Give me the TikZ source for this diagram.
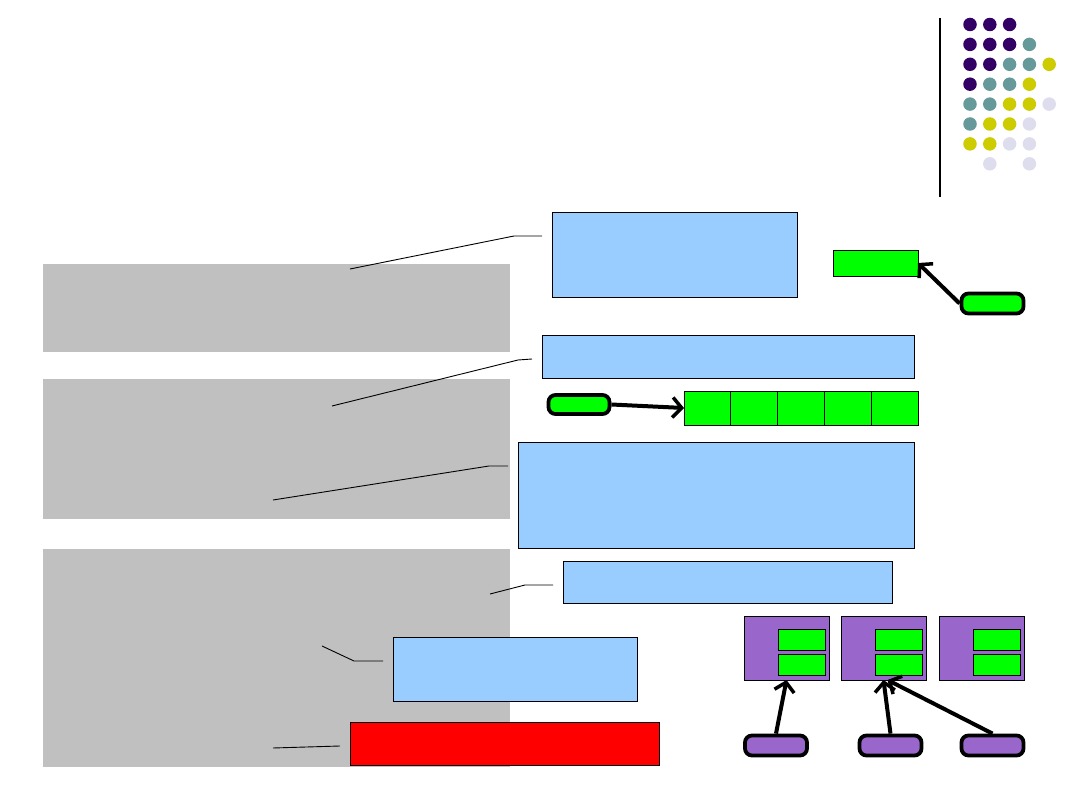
\documentclass[tikz,border=0pt]{standalone}
\usetikzlibrary{arrows.meta}
\definecolor{gbg}{HTML}{C0C0C0}
\definecolor{lblue}{HTML}{99CCFF}
\definecolor{lgreen}{HTML}{00FF00}
\definecolor{lred}{HTML}{FF0000}
\definecolor{lpurp}{HTML}{9966CC}
\definecolor{dP}{HTML}{330066}
\definecolor{dT}{HTML}{669999}
\definecolor{dY}{HTML}{CCCC00}
\definecolor{dL}{HTML}{DDDDEE}
\tikzset{
  box/.style={draw=black,line width=0.9pt,inner sep=0pt,outer sep=0pt},
  graybox/.style={fill=gbg,inner sep=0pt,outer sep=0pt},
  pill/.style={draw=black,line width=3.8pt,rounded corners=7pt,inner sep=0pt,outer sep=1.9pt},
  bigarrow/.style={line width=4pt,-{Straight Barb[length=9pt,width=20pt,line width=3.5pt]}},
  callout/.style={line width=0.9pt},
  dot/.style={circle,inner sep=0pt,minimum size=13.5pt}
}
\begin{document}
\begin{tikzpicture}[x=1pt,y=-1pt]
\useasboundingbox[fill=white] (0,0) rectangle (1080,810);
% gray panels
\node[graybox,minimum width=467,minimum height=88,anchor=north west] (g1) at (43,264) {};
\node[graybox,minimum width=467,minimum height=140,anchor=north west] (g2) at (43,379) {};
\node[graybox,minimum width=467,minimum height=218,anchor=north west] (g3) at (43,549) {};
% blue boxes
\node[box,fill=lblue,minimum width=245,minimum height=85,anchor=north west] (bA) at (552,212) {};
\node[box,fill=lblue,minimum width=372,minimum height=43,anchor=north west] (bB) at (542,335) {};
\node[box,fill=lblue,minimum width=396,minimum height=106,anchor=north west] (bC) at (518,442) {};
\node[box,fill=lblue,minimum width=329,minimum height=42,anchor=north west] (bD) at (563,561) {};
\node[box,fill=lblue,minimum width=244,minimum height=64,anchor=north west] (bE) at (393,637) {};
\node[box,fill=lred,minimum width=309,minimum height=43,anchor=north west] (bR) at (350,722) {};
% green boxes
\node[box,fill=lgreen,minimum width=85,minimum height=26,anchor=north west] (gr1) at (833,250) {};
\node[pill,fill=lgreen,minimum width=62,minimum height=20] (gp1) at (992.5,303.5) {};
\foreach \i in {0,...,4}{
  \node[box,fill=lgreen,minimum width=46.8,minimum height=34,anchor=north west] (cell\i) at (684+46.8*\i,391) {};
}
\node[pill,fill=lgreen,minimum width=61,minimum height=19] (gp2) at (579,404.5) {};
% purple boxes
\foreach \n/\x/\gx in {1/744/778,2/841/875,3/939/973}{
  \node[box,fill=lpurp,minimum width=85,minimum height=64,anchor=north west] (pb\n) at (\x,616) {};
  \node[box,fill=lgreen,minimum width=47,minimum height=21,anchor=north west] (pg\n a) at (\gx,629) {};
  \node[box,fill=lgreen,minimum width=47,minimum height=21,anchor=north west] (pg\n b) at (\gx,654) {};
}
\node[pill,fill=lpurp,minimum width=62,minimum height=20] (pp1) at (776,745.5) {};
\node[pill,fill=lpurp,minimum width=62,minimum height=20] (pp2) at (890.5,745.5) {};
\node[pill,fill=lpurp,minimum width=62,minimum height=20] (pp3) at (992.5,745.5) {};
% arrows
\draw[bigarrow] (gp1.west) -- (gr1.east);
\draw[bigarrow] (gp2.east) -- (cell0.west);
\draw[bigarrow] (pp1.north) -- (pb1.south);
\draw[bigarrow] (pp2.north) -- (pb2.south);
\draw[bigarrow] (pp3.north) -- ([xshift=4pt]pb2.south);
% callouts
\coordinate (c1a) at (350,269); \coordinate (c1b) at (514,236); \coordinate (c1c) at (542,236);
\coordinate (c2a) at (332,406); \coordinate (c2b) at (518,360); \coordinate (c2c) at (532,359);
\coordinate (c3a) at (273,500); \coordinate (c3b) at (489,466); \coordinate (c3c) at (508,466);
\coordinate (c4a) at (490,594); \coordinate (c4b) at (525,585); \coordinate (c4c) at (553,585);
\coordinate (c5a) at (322,646); \coordinate (c5b) at (354,661); \coordinate (c5c) at (383,661);
\coordinate (c6a) at (273,748); \coordinate (c6b) at (340,746);
\draw[callout] (c1a) -- (c1b) -- (c1c);
\draw[callout] (c2a) -- (c2b) -- (c2c);
\draw[callout] (c3a) -- (c3b) -- (c3c);
\draw[callout] (c4a) -- (c4b) -- (c4c);
\draw[callout] (c5a) -- (c5b) -- (c5c);
\draw[callout] (c6a) -- (c6b);
% decoration
\coordinate (vt) at (940,18); \coordinate (vb) at (940,197);
\draw[line width=1.2pt] (vt) -- (vb);
\foreach \r/\row in {0/{dP,dP,dP},1/{dP,dP,dP,dT},2/{dP,dP,dT,dT,dY},3/{dP,dT,dT,dY},4/{dT,dT,dY,dY,dL},5/{dT,dY,dY,dL},6/{dY,dY,dL,dL},7/{none,dL,none,dL}}{
  \foreach \c [count=\k from 0] in \row {
    \node[dot,fill=\c] (d\r-\k) at (970+19.8*\k,24.5+19.9*\r) {};
  }
}
\end{tikzpicture}
\end{document}
